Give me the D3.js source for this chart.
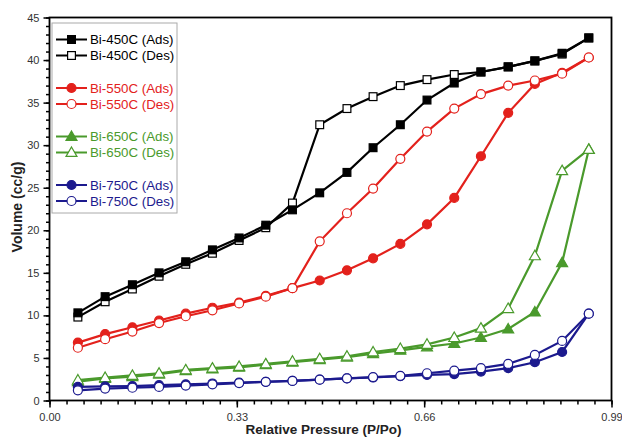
<!DOCTYPE html>
<html><head><meta charset="utf-8">
<script src="https://cdn.jsdelivr.net/npm/d3@7"></script>
<style>body{margin:0;background:#fff}svg{display:block;font-family:"Liberation Sans",Arial,sans-serif}</style>
</head><body><svg id="c" width="622" height="438"></svg>
<script>
const pressure = [0.050,0.098,0.146,0.193,0.240,0.287,0.334,0.381,0.428,0.476,0.524,0.570,0.618,0.665,0.713,0.760,0.808,0.855,0.903,0.950];
const bi450Ads = [10.3,12.2,13.6,15.0,16.3,17.7,19.1,20.6,22.4,24.4,26.8,29.7,32.4,35.3,37.3,38.6,39.2,39.9,40.8,42.6];
const bi450Des = [9.8,11.6,13.1,14.6,16.0,17.3,18.8,20.3,23.2,32.4,34.3,35.7,37.0,37.7,38.3,38.6,39.2,39.9,40.7,42.6];
const bi550Ads = [6.8,7.8,8.6,9.4,10.2,10.9,11.5,12.3,13.2,14.1,15.3,16.7,18.4,20.7,23.8,28.7,33.8,37.2,38.5,40.3];
const bi550Des = [6.2,7.2,8.1,9.1,9.9,10.6,11.4,12.2,13.2,18.7,22.0,24.9,28.4,31.6,34.3,36.0,37.0,37.6,38.4,40.3];
const bi650Ads = [2.2,2.6,2.8,3.1,3.5,3.7,3.9,4.2,4.5,4.8,5.1,5.5,5.9,6.3,6.7,7.4,8.4,10.4,16.2,29.5];
const bi650Des = [2.4,2.7,2.95,3.2,3.6,3.8,4.0,4.3,4.6,4.9,5.2,5.7,6.1,6.6,7.4,8.5,10.8,17.0,27.0,29.5];
const bi750Ads = [1.6,1.65,1.7,1.8,1.9,2.0,2.1,2.2,2.3,2.45,2.6,2.7,2.85,3.0,3.1,3.4,3.8,4.5,5.7,10.2];
const bi750Des = [1.2,1.4,1.5,1.6,1.75,1.9,2.05,2.2,2.3,2.45,2.6,2.75,2.9,3.2,3.5,3.8,4.3,5.35,7.0,10.2];
const seriesNames = ["Bi-450C (Ads)","Bi-450C (Des)","Bi-550C (Ads)","Bi-550C (Des)","Bi-650C (Ads)","Bi-650C (Des)","Bi-750C (Ads)","Bi-750C (Des)"];
const xTicks = [0,0.33,0.66,0.99];
const yTicks = [0,5,10,15,20,25,30,35,40,45];

const colors = {450:"#000000",550:"#e3211c",650:"#4a9a2c",750:"#1c1a8e"};
const seriesByName = {};
[
  {name:seriesNames[0],vals:bi450Ads,c:colors[450],shape:"square",fill:true},
  {name:seriesNames[1],vals:bi450Des,c:colors[450],shape:"square",fill:false},
  {name:seriesNames[2],vals:bi550Ads,c:colors[550],shape:"circle",fill:true},
  {name:seriesNames[3],vals:bi550Des,c:colors[550],shape:"circle",fill:false},
  {name:seriesNames[4],vals:bi650Ads,c:colors[650],shape:"triangle",fill:true},
  {name:seriesNames[5],vals:bi650Des,c:colors[650],shape:"triangle",fill:false},
  {name:seriesNames[6],vals:bi750Ads,c:colors[750],shape:"circle",fill:true},
  {name:seriesNames[7],vals:bi750Des,c:colors[750],shape:"circle",fill:false}
].forEach(s=>seriesByName[s.name]=s);
// drawing order (later on top)
const drawOrder=[1,0,2,3,4,5,6,7].map(i=>seriesByName[seriesNames[i]]);

const L=49.5,R=611.5,T=17.5,B=400.5;
const x=d3.scaleLinear().domain([0,0.99]).range([L,R]);
const y=d3.scaleLinear().domain([0,45]).range([B,T]);
const svg=d3.select("#c");

const xMinor=d3.range(0,34).map(i=>+(i*0.03).toFixed(2));
const yMinor=d3.range(0,46);
const xa=svg.append("g").attr("transform",`translate(0,${B})`)
  .call(d3.axisBottom(x).tickValues(xMinor).tickSize(4).tickFormat(""));
xa.select(".domain").remove();
xa.selectAll("line").attr("stroke","#000").attr("stroke-width",1.5);
const xb=svg.append("g").attr("transform",`translate(0,${B})`)
  .call(d3.axisBottom(x).tickValues(xTicks).tickSize(7).tickPadding(6).tickFormat(d3.format(".2f")));
xb.select(".domain").remove();
xb.selectAll("line").attr("stroke","#000").attr("stroke-width",1.5);
xb.selectAll("text").attr("font-size",11).attr("fill","#333").style("font-family","Liberation Sans, Arial");

const ya=svg.append("g").attr("transform",`translate(${L},0)`)
  .call(d3.axisLeft(y).tickValues(yMinor).tickSize(3.5).tickFormat(""));
ya.select(".domain").remove();
ya.selectAll("line").attr("stroke","#000").attr("stroke-width",1.5);
const yb=svg.append("g").attr("transform",`translate(${L},0)`)
  .call(d3.axisLeft(y).tickValues(yTicks).tickSize(6).tickPadding(4).tickFormat(d3.format("d")));
yb.select(".domain").remove();
yb.selectAll("line").attr("stroke","#000").attr("stroke-width",1.5);
yb.selectAll("text").attr("font-size",11).attr("fill","#333").style("font-family","Liberation Sans, Arial");

svg.append("rect").attr("x",L).attr("y",T).attr("width",R-L).attr("height",B-T)
  .attr("fill","none").attr("stroke","#000").attr("stroke-width",1.8);

svg.append("text").attr("x",(L+R)/2-7).attr("y",434).attr("text-anchor","middle")
  .attr("font-weight","bold").attr("font-size",13.5).attr("fill","#222").text("Relative Pressure (P/Po)");
svg.append("text").attr("transform",`translate(22,${(T+B)/2-2}) rotate(-90)`).attr("text-anchor","middle")
  .attr("font-weight","bold").attr("font-size",14).attr("fill","#222").text("Volume (cc/g)");

function marker(g,shape,cx,cy,c,fill){
  if(shape==="square") g.append("rect").attr("x",cx-3.9).attr("y",cy-3.9).attr("width",7.8).attr("height",7.8)
    .attr("fill",fill?c:"#fff").attr("stroke",c).attr("stroke-width",1.2);
  else if(shape==="circle") g.append("circle").attr("cx",cx).attr("cy",cy).attr("r",4.5)
    .attr("fill",fill?c:"#fff").attr("stroke",c).attr("stroke-width",1.2);
  else g.append("path").attr("d",d3.symbol(d3.symbolTriangle,52)()).attr("transform",`translate(${cx},${cy+0.8})`)
    .attr("fill",fill?c:"#fff").attr("stroke",c).attr("stroke-width",1.2);
}

const line=d3.line().x((d,i)=>x(pressure[i])).y(d=>y(d));
const plot=svg.append("g");
drawOrder.forEach(s=>{
  const g=plot.append("g");
  g.append("path").attr("d",line(s.vals)).attr("fill","none").attr("stroke",s.c).attr("stroke-width",2.2);
  s.vals.forEach((v,i)=>marker(g,s.shape,x(pressure[i]),y(v),s.c,s.fill));
});

const lg=svg.append("g");
lg.append("rect").attr("x",52).attr("y",23).attr("width",125).attr("height",190)
  .attr("fill","#fff").attr("stroke","#aaa").attr("stroke-width",1);
const legRows=[];
[[0,1],[2,3],[4,5],[6,7]].forEach((pair,gi)=>pair.forEach((si,k)=>legRows.push({si,yy:39.5+gi*48.5+k*16})));
legRows.forEach(r=>{
  const s=seriesByName[seriesNames[r.si]];
  lg.append("line").attr("x1",56).attr("x2",87).attr("y1",r.yy).attr("y2",r.yy).attr("stroke",s.c).attr("stroke-width",2);
  marker(lg,s.shape,71.5,r.yy,s.c,s.fill);
  lg.append("text").attr("x",90).attr("y",r.yy+4.6).attr("font-size",13.3).attr("fill",s.c).text(s.name);
});
</script></body></html>
